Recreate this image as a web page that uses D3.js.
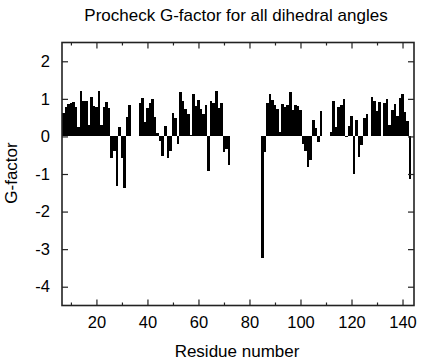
<!DOCTYPE html>
<html>
<head>
<meta charset="utf-8">
<script src="https://cdn.jsdelivr.net/npm/d3@7"></script>
<style>
  body { margin: 0; background: #fff; }
  text { font-family: "Liberation Sans", Arial, Helvetica, sans-serif; fill: #000; }
</style>
</head>
<body>
<script>
// residue numbers, one block per stretch of residues that have a value
const residues = [
    7,8,9,10,11,12,13,14,15,16,17,18,19,20,21,22,23,24,25,26,27,28,29,30,31,32,33,
    37,38,39,40,41,42,43,44,45,46,47,48,49,50,51,52,53,54,55,56,57,58,59,60,61,62,63,64,65,66,67,68,69,70,71,72,
    85,86,87,88,89,90,91,92,93,94,95,96,97,98,99,100,101,102,103,104,105,106,107,108,
    112,113,114,115,116,117,118,119,120,121,122,123,124,125,126,127,128,129,130,131,132,133,134,135,136,137,138,139,140,141,142,143
];
const gFactor = [
    0.62,0.78,0.85,0.9,0.92,0.77,0.25,1.22,0.95,0.95,0.3,1.05,0.82,0.78,1.2,0.3,0.77,0.92,0.75,-0.58,-0.4,-1.32,0.26,-0.57,-1.36,0.52,0.83,
    0.88,1.02,0.38,0.76,0.88,1.0,0.53,0.08,-0.11,-0.52,0.28,-0.57,-0.38,0.62,0.5,-0.2,1.17,0.95,0.72,0.6,0.03,1.12,0.8,0.97,0.72,0.6,0.84,-0.92,0.95,0.9,1.2,0.75,0.88,-0.41,-0.33,-0.76,
    -3.23,-0.42,0.88,1.12,0.98,0.83,0.72,0.12,0.86,0.78,0.84,1.17,0.7,0.84,0.8,0.7,-0.2,-0.38,-0.81,-0.64,0.44,0.22,-0.16,0.68,
    0.13,0.95,0.24,0.77,0.83,1.0,-0.02,0.28,0.55,-0.99,0.44,-0.56,-0.24,0.48,0.6,0.02,1.06,0.95,0.67,0.92,0.02,0.88,1.0,0.3,0.7,0.85,0.55,1.02,1.13,0.64,0.42,-1.12
];
const xMajorTicks = [20,40,60,80,100,120,140];
const xMinorTicks = [10,30,50,70,90,110,130];
const yTicks = [-4,-3,-2,-1,0,1,2];

const svgWidth = 423;
const svgHeight = 360;
const plot = {left: 62, right: 414, top: 42.5, bottom: 305.5};

const data = residues.map((r, i) => ({res: r, g: gFactor[i]}));

const svg = d3
    .select("body")
    .append("svg")
    .attr("width", svgWidth)
    .attr("height", svgHeight);

const xScale = d3
    .scaleLinear()
    .domain([6.5, 144.5])
    .range([plot.left, plot.right]);
const yScale = d3
    .scaleLinear()
    .domain([-4.5, 2.5])
    .range([plot.bottom, plot.top]);

const barW = xScale(1) - xScale(0);

// bars
svg.append("g")
    .selectAll("rect")
    .data(data)
    .enter()
    .append("rect")
    .attr("x", d => xScale(d.res) - barW / 2)
    .attr("width", barW)
    .attr("y", d => yScale(Math.max(0, d.g)))
    .attr("height", d => Math.abs(yScale(d.g) - yScale(0)))
    .attr("fill", "#000")
    .attr("shape-rendering", "crispEdges");

// axes, ticks pointing into the plot
const styleAxis = g => {
    g.select(".domain").remove();
    g.selectAll("line").attr("stroke", "#222").attr("stroke-width", 1.2);
    g.selectAll("text").attr("font-size", 16.5).attr("fill", "#000")
        .attr("font-family", "'Liberation Sans', Arial, Helvetica, sans-serif");
};
const plainNum = d => String(d);

svg.append("g")
    .attr("transform", `translate(0,${plot.bottom})`)
    .call(d3.axisBottom(xScale).tickValues(xMajorTicks).tickSize(-6).tickPadding(11).tickFormat(plainNum))
    .call(styleAxis);
svg.append("g")
    .attr("transform", `translate(0,${plot.bottom})`)
    .call(d3.axisBottom(xScale).tickValues(xMinorTicks).tickSize(-3).tickFormat(""))
    .call(styleAxis);
svg.append("g")
    .attr("transform", `translate(0,${plot.top})`)
    .call(d3.axisTop(xScale).tickValues(xMajorTicks).tickSize(-6).tickFormat(""))
    .call(styleAxis);
svg.append("g")
    .attr("transform", `translate(0,${plot.top})`)
    .call(d3.axisTop(xScale).tickValues(xMinorTicks).tickSize(-3).tickFormat(""))
    .call(styleAxis);
svg.append("g")
    .attr("transform", `translate(${plot.left},0)`)
    .call(d3.axisLeft(yScale).tickValues(yTicks).tickSize(-6).tickPadding(12).tickFormat(plainNum))
    .call(styleAxis);
svg.append("g")
    .attr("transform", `translate(${plot.right},0)`)
    .call(d3.axisRight(yScale).tickValues(yTicks).tickSize(-6).tickFormat(""))
    .call(styleAxis);

// frame
svg.append("rect")
    .attr("x", plot.left)
    .attr("y", plot.top)
    .attr("width", plot.right - plot.left)
    .attr("height", plot.bottom - plot.top)
    .attr("fill", "none")
    .attr("stroke", "#222")
    .attr("stroke-width", 1.6);

// labels
svg.append("text")
    .attr("x", 236)
    .attr("y", 21)
    .attr("text-anchor", "middle")
    .attr("font-size", 17)
    .text("Procheck G-factor for all dihedral angles");

svg.append("text")
    .attr("x", 237)
    .attr("y", 357)
    .attr("text-anchor", "middle")
    .attr("font-size", 17)
    .text("Residue number");

svg.append("text")
    .attr("transform", "translate(17,173) rotate(-90)")
    .attr("text-anchor", "middle")
    .attr("font-size", 17)
    .text("G-factor");
</script>
</body>
</html>
